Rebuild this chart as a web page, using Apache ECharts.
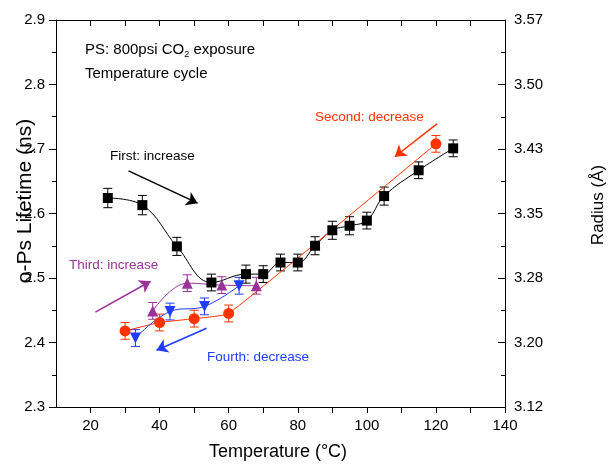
<!DOCTYPE html>
<html>
<head>
<meta charset="utf-8">
<script src="https://cdn.jsdelivr.net/npm/echarts@6/dist/echarts.min.js"></script>
<style>
  html, body { margin: 0; padding: 0; background: #fff; }
  #chart { width: 611px; height: 464px; }
</style>
</head>
<body>
<div id="chart"></div>
<script>
// First: increase (black squares)
var tempFirst = [25, 35, 45, 55, 65, 70, 75, 80, 85, 90, 95, 100, 105, 115, 125];
var lifeFirst = [2.624, 2.613, 2.549, 2.493, 2.506, 2.506, 2.524, 2.524, 2.550, 2.574, 2.581, 2.589, 2.627, 2.667, 2.701];
var errFirst  = [0.015, 0.015, 0.014, 0.013, 0.014, 0.013, 0.013, 0.013, 0.014, 0.014, 0.014, 0.013, 0.014, 0.013, 0.013];
// Second: decrease (red circles)
var tempSecond = [30, 40, 50, 60, 120];
var lifeSecond = [2.418, 2.431, 2.437, 2.445, 2.708];
var errSecond  = [0.013, 0.013, 0.013, 0.013, 0.013];
// Third: increase (purple triangles)
var tempThird = [38, 48, 58, 68];
var lifeThird = [2.449, 2.492, 2.489, 2.488];
var errThird  = [0.013, 0.013, 0.013, 0.013];
// Fourth: decrease (blue down triangles)
var tempFourth = [33, 43, 53, 63];
var lifeFourth = [2.407, 2.448, 2.456, 2.488];
var errFourth  = [0.013, 0.013, 0.013, 0.013];

// right axis tick labels (Radius, Å)
var radiusLabels = ['3.12', '3.20', '3.28', '3.35', '3.43', '3.50', '3.57'];

// annotation arrows [from, to] in data coords
var arrowFirst  = [[31.0, 2.666], [51.0, 2.616]];
var arrowSecond = [[120.3, 2.739], [108.1, 2.688]];
var arrowThird  = [[21.4, 2.447], [37.4, 2.495]];
var arrowFourth = [[53.6, 2.422], [39.1, 2.388]];

var FONT = '"Liberation Sans", Arial, sans-serif';
var cBlack = '#000000', cRed = '#ff3300', cPurple = '#993399', cBlue = '#1f3cff';

function pts(xs, ys) {
    return xs.map(function (x, i) { return [x, ys[i]]; });
}
function bars(xs, ys, es) {
    return xs.map(function (x, i) { return [x, ys[i], es[i]]; });
}

function lineSeries(name, xs, ys, color, symbol, size, smooth, rotate) {
    return {
        name: name,
        type: 'line',
        data: pts(xs, ys),
        smooth: smooth,
        symbol: symbol,
        symbolSize: size,
        symbolRotate: rotate || 0,
        showSymbol: true,
        itemStyle: { color: color, opacity: 1 },
        lineStyle: { color: color, width: 1 },
        z: 3
    };
}

function errSeries(xs, ys, es, color) {
    return {
        type: 'custom',
        data: bars(xs, ys, es),
        encode: { x: 0, y: 1 },
        z: 2,
        silent: true,
        renderItem: function (params, api) {
            var x = api.value(0), y = api.value(1), e = api.value(2);
            var top = api.coord([x, y + e]);
            var bot = api.coord([x, y - e]);
            var w = 4.5;
            var st = { stroke: color, lineWidth: 1 };
            return {
                type: 'group',
                children: [
                    { type: 'line', shape: { x1: top[0], y1: top[1], x2: bot[0], y2: bot[1] }, style: st },
                    { type: 'line', shape: { x1: top[0] - w, y1: top[1], x2: top[0] + w, y2: top[1] }, style: st },
                    { type: 'line', shape: { x1: bot[0] - w, y1: bot[1], x2: bot[0] + w, y2: bot[1] }, style: st }
                ]
            };
        }
    };
}

function arrow(a, color) {
    return [
        { coord: a[0], lineStyle: { color: color, width: 1.5, type: 'solid' }, symbol: 'none' },
        { coord: a[1], symbol: 'arrow' }
    ];
}

function note(text, x, y, color, size) {
    return {
        type: 'text',
        x: x,
        y: y,
        style: {
            text: text,
            fill: color,
            font: size + 'px ' + FONT,
            textAlign: 'left',
            textVerticalAlign: 'middle'
        }
    };
}

var myChart = echarts.init(document.getElementById('chart'), null, { renderer: 'canvas' });
var option = {
    animation: false,
    backgroundColor: '#ffffff',
    grid: { left: 56, right: 106, top: 20, bottom: 57, containLabel: false },
    xAxis: [
        {
            type: 'value', position: 'bottom', min: 10, max: 140, interval: 10,
            axisLine: { show: true, lineStyle: { color: '#000', width: 1 } },
            axisTick: { show: true, inside: false, length: 6, lineStyle: { color: '#000' } },
            axisLabel: {
                color: '#000', fontSize: 15, fontFamily: FONT, margin: 11,
                showMinLabel: false, showMaxLabel: true,
                formatter: function (v) { return (v % 20 === 0) ? String(v) : ''; }
            },
            splitLine: { show: false }
        },
        {
            type: 'value', position: 'top', min: 10, max: 140, interval: 10,
            axisLine: { show: true, lineStyle: { color: '#000', width: 1 } },
            axisTick: { show: true, inside: true, length: 6, lineStyle: { color: '#000' } },
            axisLabel: { show: false },
            splitLine: { show: false }
        }
    ],
    yAxis: [
        {
            type: 'value', position: 'left', min: 2.3, max: 2.9, interval: 0.1,
            axisLine: { show: true, lineStyle: { color: '#000', width: 1 } },
            axisTick: { show: true, inside: false, length: 7, lineStyle: { color: '#000' } },
            minorTick: { show: true, splitNumber: 2, length: 4, lineStyle: { color: '#000' } },
            axisLabel: {
                color: '#000', fontSize: 15, fontFamily: FONT, margin: 11,
                formatter: function (v) { return v.toFixed(1); }
            },
            splitLine: { show: false }
        },
        {
            type: 'value', position: 'right', min: 0, max: 6, interval: 1,
            axisLine: { show: true, lineStyle: { color: '#000', width: 1 } },
            axisTick: { show: true, inside: true, length: 7, lineStyle: { color: '#000' } },
            minorTick: { show: true, splitNumber: 2, length: 4, lineStyle: { color: '#000' } },
            axisLabel: {
                color: '#000', fontSize: 15, fontFamily: FONT, margin: 9,
                formatter: function (v) { return radiusLabels[Math.round(v)]; }
            },
            splitLine: { show: false }
        }
    ],
    series: [
        errSeries(tempFirst, lifeFirst, errFirst, cBlack),
        errSeries(tempSecond, lifeSecond, errSecond, cRed),
        errSeries(tempThird, lifeThird, errThird, cPurple),
        errSeries(tempFourth, lifeFourth, errFourth, cBlue),
        lineSeries('First', tempFirst, lifeFirst, cBlack, 'rect', 10, 0.4),
        lineSeries('Second', tempSecond, lifeSecond, cRed, 'circle', 11, 0.12),
        lineSeries('Third', tempThird, lifeThird, cPurple, 'triangle', 11, 0.4),
        lineSeries('Fourth', tempFourth, lifeFourth, cBlue, 'triangle', 11, 0.4, 180),
        {
            type: 'line',
            data: [],
            silent: true,
            markLine: {
                silent: true,
                animation: false,
                symbol: ['none', 'arrow'],
                symbolSize: 11,
                label: { show: false },
                emphasis: { disabled: true },
                data: [
                    arrow(arrowFirst, cBlack),
                    arrow(arrowSecond, cRed),
                    arrow(arrowThird, cPurple),
                    arrow(arrowFourth, cBlue)
                ]
            }
        }
    ],
    graphic: [
        {
            type: 'text', x: 85, y: 50,
            style: {
                text: 'PS: 800psi CO{sub|2} exposure',
                fill: '#000',
                font: '15px ' + FONT,
                textAlign: 'left',
                textVerticalAlign: 'middle',
                rich: { sub: { fontSize: 9, fontFamily: FONT, fill: '#000', verticalAlign: 'top', padding: [10, 0, 0, 0] } }
            }
        },
        note('Temperature cycle', 85, 74, '#000', 15),
        note('First: increase', 110, 156, cBlack, 13.5),
        note('Second: decrease', 315, 117, cRed, 13.5),
        note('Third: increase', 69, 265, cPurple, 13.5),
        note('Fourth: decrease', 207, 357, cBlue, 13.5),
        {
            type: 'text', x: 278, y: 452,
            style: { text: 'Temperature (°C)', fill: '#000', font: '18px ' + FONT, textAlign: 'center', textVerticalAlign: 'middle' }
        },
        {
            type: 'text', x: 25, y: 201, rotation: Math.PI / 2,
            style: { text: 'o-Ps Lifetime (ns)', fill: '#000', font: '21px ' + FONT, textAlign: 'center', textVerticalAlign: 'middle' }
        },
        {
            type: 'text', x: 598, y: 205, rotation: Math.PI / 2,
            style: { text: 'Radius (Å)', fill: '#000', font: '17px ' + FONT, textAlign: 'center', textVerticalAlign: 'middle' }
        }
    ]
};
myChart.setOption(option);
</script>
</body>
</html>
